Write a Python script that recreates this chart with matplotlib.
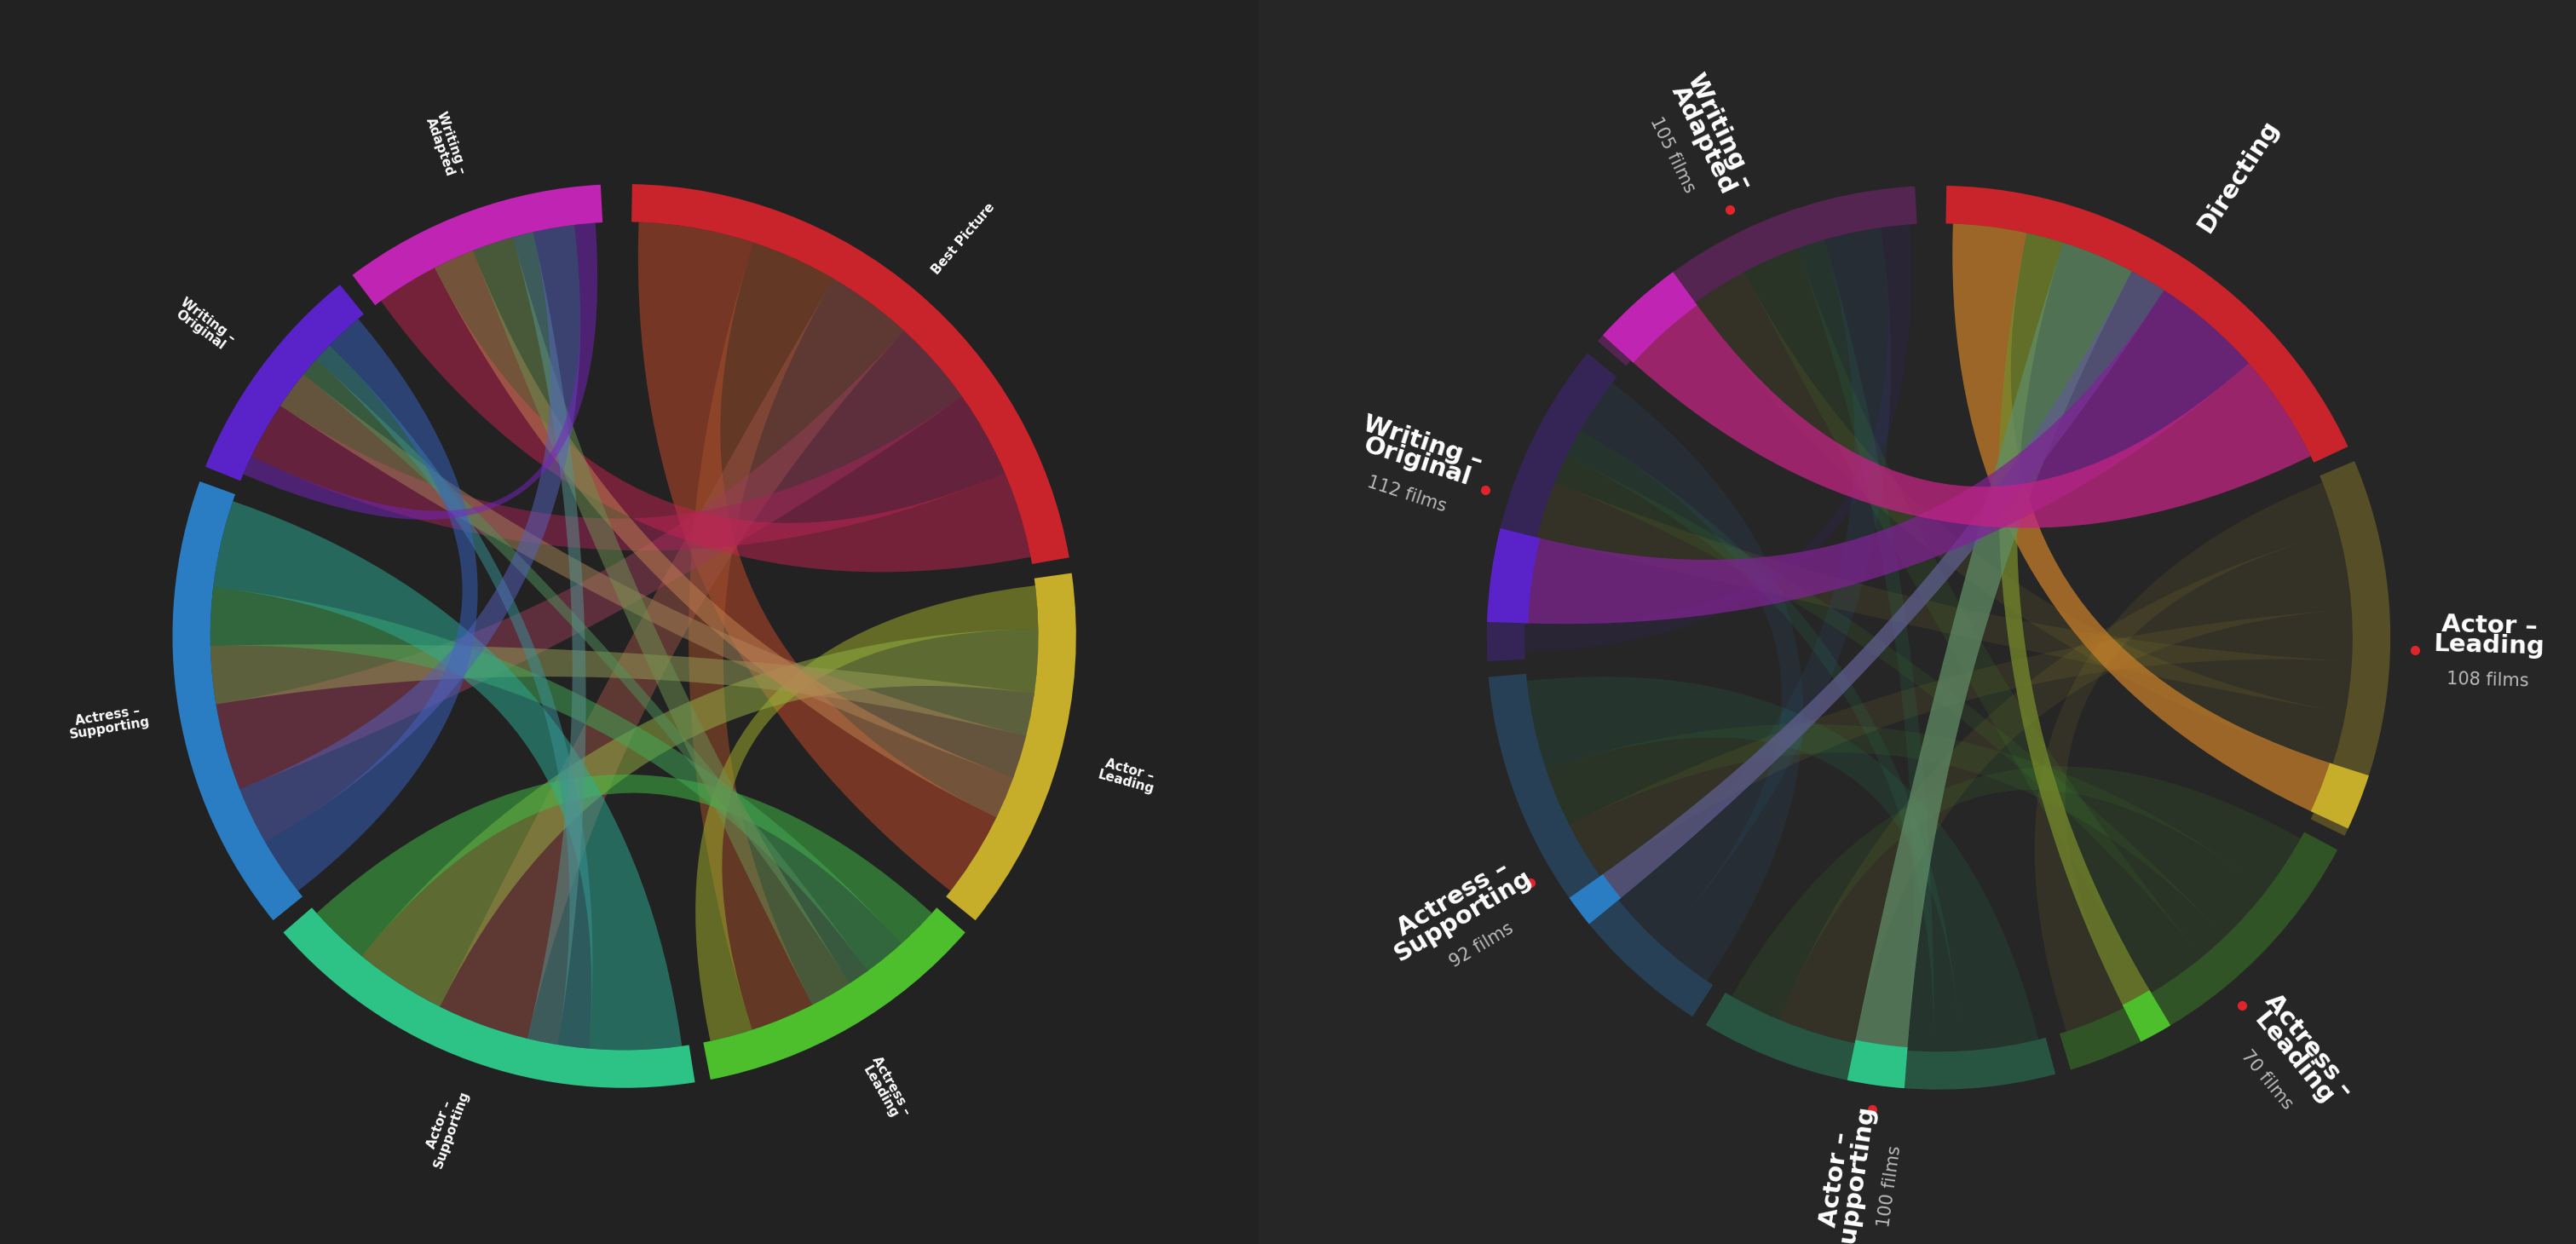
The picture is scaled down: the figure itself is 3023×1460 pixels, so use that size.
import matplotlib.pyplot as plt
import numpy as np
from matplotlib.patches import Wedge, Polygon, Rectangle

# categories (clockwise from top) and arc extents in compass degrees
left_names = ["Best Picture", "Actor –\nLeading", "Actress –\nLeading", "Actor –\nSupporting",
              "Actress –\nSupporting", "Writing –\nOriginal", "Writing –\nAdapted"]
left_spans = [(1, 80), (82, 129), (131, 169), (171, 229), (231, 290), (292, 321), (323, 357)]

right_names = ["Directing", "Actor –\nLeading", "Actress –\nLeading", "Actor –\nSupporting",
               "Actress –\nSupporting", "Writing –\nOriginal", "Writing –\nAdapted"]
right_films = [None, 108, 70, 100, 92, 112, 105]
right_spans = [(1, 65), (67, 116), (118, 163), (165, 211), (213, 265), (267, 309), (311, 357)]

colors = ["#c9242b", "#c6ad2a", "#4dbf2c", "#2dc386", "#2a7dc2", "#5a23c9", "#c024b2"]

# shared-nomination weights (upper triangle), estimated
left_flows = {(0, 1): 4, (0, 2): 3, (0, 3): 3, (0, 4): 3, (0, 5): 3, (0, 6): 3,
              (1, 2): 2, (1, 3): 3, (1, 4): 2, (1, 5): 2, (1, 6): 2,
              (2, 3): 2, (2, 4): 2, (2, 5): 1, (2, 6): 2,
              (3, 4): 3, (3, 5): 1, (3, 6): 1,
              (4, 5): 2, (4, 6): 2, (5, 6): 1}
right_flows = {(0, 1): 2, (0, 2): 1, (0, 3): 2, (0, 4): 1, (0, 5): 3, (0, 6): 3,
               (1, 2): 2, (1, 3): 3, (1, 4): 2, (1, 5): 2, (1, 6): 2,
               (2, 3): 2, (2, 4): 2, (2, 5): 1, (2, 6): 2,
               (3, 4): 3, (3, 5): 1, (3, 6): 1,
               (4, 5): 2, (4, 6): 2, (5, 6): 1}

R_OUT, R_IN = 275, 252


def pt(cx, cy, r, th):
    t = np.radians(th)
    return cx + r * np.sin(t), cy - r * np.cos(t)


def allocate(spans, flows):
    n = len(spans)
    slots = {}
    for i in range(n):
        order = [(i + k) % n for k in range(1, n)]
        ws = [flows.get((min(i, j), max(i, j)), 0) for j in order]
        a0, a1 = spans[i]
        tot = sum(ws)
        cur = a0 + 1
        for j, w in zip(order, ws):
            d = (a1 - a0 - 2) * w / tot
            slots[(i, j)] = (cur, cur + d)
            cur += d
    return slots


def chord(ax, cx, cy, s, t, color, alpha):
    a = np.linspace(s[0], s[1], 20)
    b = np.linspace(t[0], t[1], 20)
    pts = [pt(cx, cy, R_IN, x) for x in a]
    p0 = np.array(pt(cx, cy, R_IN, s[1])); p2 = np.array(pt(cx, cy, R_IN, t[0]))
    u = np.linspace(0, 1, 40)[:, None]
    c = np.array([cx, cy])
    pts += list((1 - u) ** 2 * p0 + 2 * u * (1 - u) * c + u ** 2 * p2)
    pts += [pt(cx, cy, R_IN, x) for x in b]
    p0 = np.array(pt(cx, cy, R_IN, t[1])); p2 = np.array(pt(cx, cy, R_IN, s[0]))
    pts += list((1 - u) ** 2 * p0 + 2 * u * (1 - u) * c + u ** 2 * p2)
    ax.add_patch(Polygon(np.array(pts), closed=True, fc=color, ec="none", alpha=alpha))


def ring(ax, cx, cy, a0, a1, color, alpha=1.0, r_in=R_IN):
    # Wedge uses math angles, y axis is inverted -> mirror
    ax.add_patch(Wedge((cx, cy), R_OUT, a0 - 90, a1 - 90, width=R_OUT - r_in,
                       fc=color, ec="none", alpha=alpha))


def rot_for(th):
    r = 90 - th
    if r < -90:
        r += 180
    return r


fig = plt.figure(figsize=(30.23, 14.6), dpi=100)
ax = fig.add_axes([0, 0, 1, 1])
ax.set_xlim(0, 1568)
ax.set_ylim(757, 0)
ax.axis("off")
fig.patch.set_facecolor("#222222")
ax.add_patch(Rectangle((766, 0), 802, 757, fc="#262626", ec="none"))

# ---- left panel
cx, cy = 380, 387
slots = allocate(left_spans, left_flows)
for (i, j), w in left_flows.items():
    chord(ax, cx, cy, slots[(i, j)], slots[(j, i)], colors[i], 0.42)
    chord(ax, cx, cy, slots[(i, j)], slots[(j, i)], colors[j], 0.15)
for k, (a0, a1) in enumerate(left_spans):
    ring(ax, cx, cy, a0, a1, colors[k])
    mid = (a0 + a1) / 2
    x, y = pt(cx, cy, 318, mid)
    ax.text(x, y, left_names[k], color="white", fontsize=11, fontweight="bold",
            rotation=rot_for(mid), ha="center", va="center", linespacing=1.0,
            rotation_mode="anchor")

# ---- right panel
cx, cy = 1180, 388
slots = allocate(right_spans, right_flows)
for (i, j), w in right_flows.items():
    if i != 0:
        chord(ax, cx, cy, slots[(i, j)], slots[(j, i)], colors[i], 0.09)
for k, (a0, a1) in enumerate(right_spans):
    ring(ax, cx, cy, a0, a1, colors[k], 1.0 if k == 0 else 0.3)
for j in range(1, 7):
    s, t = slots[(0, j)], slots[(j, 0)]
    chord(ax, cx, cy, s, t, colors[j], 0.65)
    chord(ax, cx, cy, s, t, colors[0], 0.25)
    ring(ax, cx, cy, t[0], t[1], colors[j], 1.0, r_in=R_IN - 2)
for k, (a0, a1) in enumerate(right_spans):
    mid = (a0 + a1) / 2
    rot = rot_for(mid)
    x, y = pt(cx, cy, 335, mid)
    up = np.array([-np.sin(np.radians(rot)), -np.cos(np.radians(rot))])
    if right_films[k] is None:
        ax.text(x, y, right_names[k], color="white", fontsize=21, fontweight="bold",
                rotation=rot, ha="center", va="center")
        continue
    nx, ny = np.array([x, y]) + up * 10
    fx, fy = np.array([x, y]) - up * 17
    ax.text(nx, ny, right_names[k], color="white", fontsize=21, fontweight="bold",
            rotation=rot, ha="center", va="center", linespacing=0.8)
    ax.text(fx, fy, f"{right_films[k]} films", color="#bbbbbb", fontsize=15,
            rotation=rot, ha="center", va="center")
    dx, dy = pt(cx, cy, 290, mid)
    ax.plot(dx, dy, "o", color="#e0242b", ms=7)

fig.savefig("out.png", dpi=100, facecolor=fig.get_facecolor())
